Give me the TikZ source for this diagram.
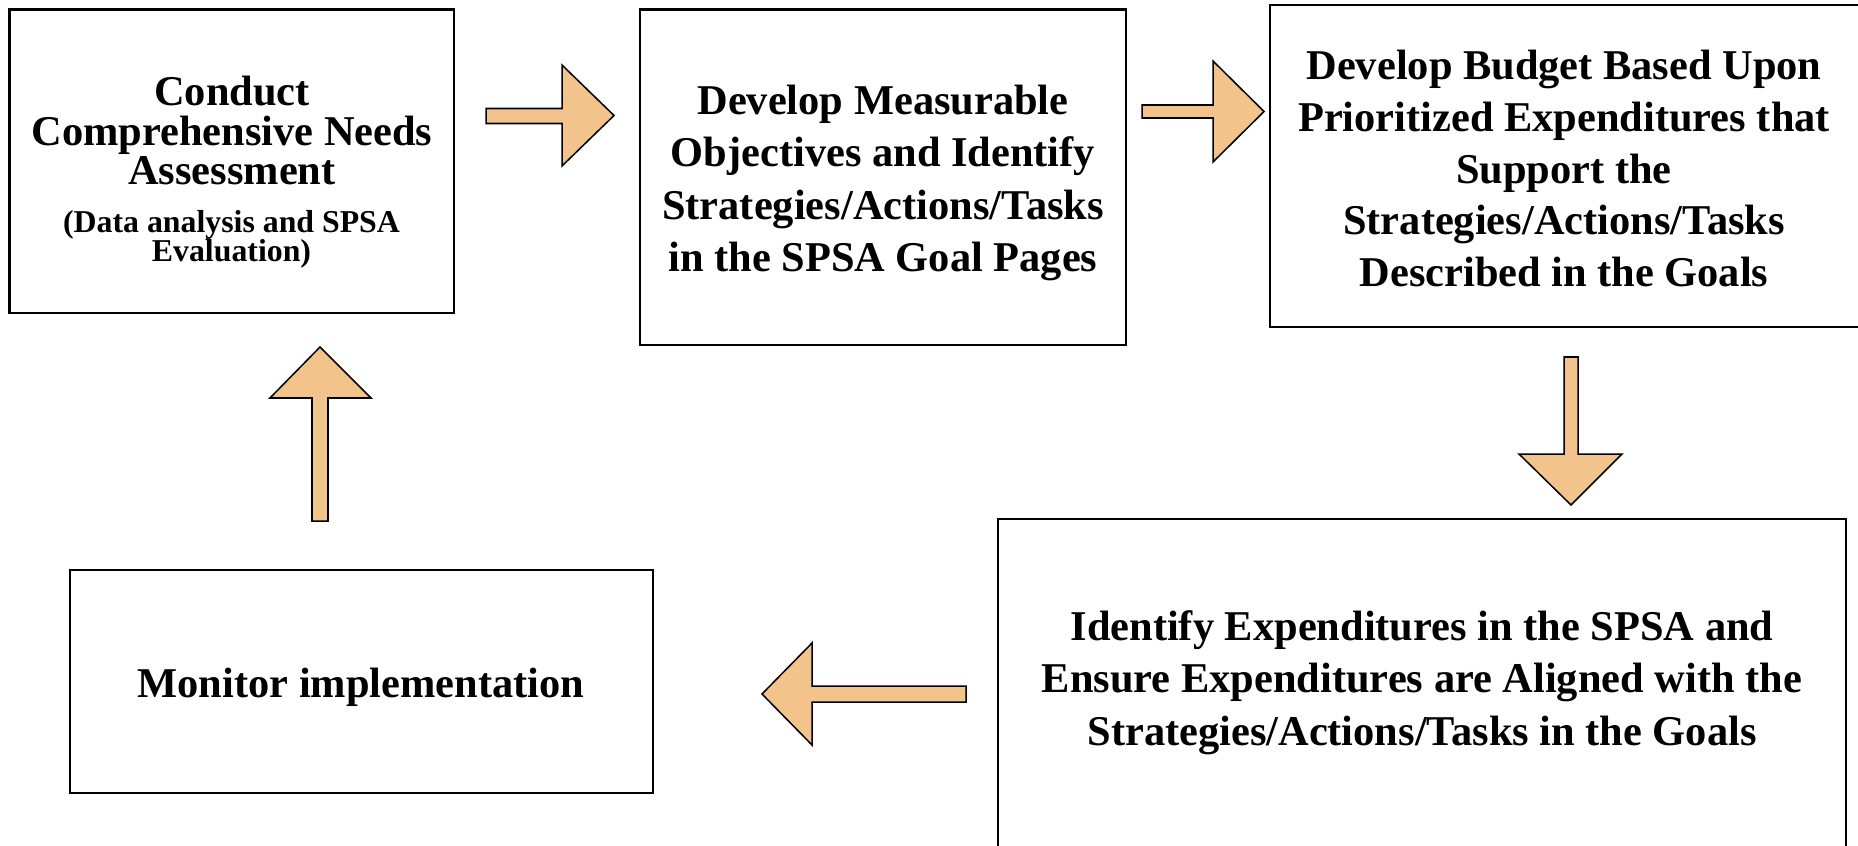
\documentclass[tikz,border=0pt]{standalone}
\usepackage{fontspec}
\setmainfont{Liberation Serif}
\definecolor{arrowfill}{RGB}{242,195,138}
\begin{document}
\begin{tikzpicture}[x=0.33pt,y=-0.33pt,
  box/.style={draw, line width=0.8pt, rectangle, inner sep=0pt, outer sep=0pt, anchor=north west},
  maintext/.style={align=center, inner sep=0pt, font={\fontsize{14}{17.3}\selectfont\bfseries\lineskiplimit=-20pt}},
  blockarrow/.style={draw, line width=0.5pt, fill=arrowfill, line join=miter}]
\useasboundingbox (0,0) rectangle (1858,845);
\clip (0,0) rectangle (1858,845);
% boxes
\node[box, minimum width={444.5*0.33pt}, minimum height={303.5*0.33pt}] (b1) at (9.5,9.5) {};
\node[box, minimum width={486*0.33pt}, minimum height={335.5*0.33pt}] (b2) at (640,9.5) {};
\node[box, minimum width={592*0.33pt}, minimum height={322*0.33pt}] (b3) at (1270,5) {};
\node[box, minimum width={848*0.33pt}, minimum height={381*0.33pt}] (b4) at (998,519) {};
\node[box, minimum width={583*0.33pt}, minimum height={223*0.33pt}] (b5) at (70,570) {};
% texts
\node[maintext, font={\fontsize{14}{13.1}\selectfont\bfseries\lineskiplimit=-20pt}] (t1) at (232,130.5) {Conduct\\Comprehensive Needs\\Assessment};
\node[maintext, font={\fontsize{10.5}{9.4}\selectfont\bfseries\lineskiplimit=-20pt}] (t1s) at (231.5,239.5) {(Data analysis and SPSA\\Evaluation)};
\node[maintext] (t2) at (883,183) {Develop Measurable\\Objectives and Identify\\Strategies/Actions/Tasks\\in the SPSA Goal Pages};
\node[maintext, font={\fontsize{14}{17.1}\selectfont\bfseries\lineskiplimit=-20pt}] (t3) at (1564,168.5) {Develop Budget Based Upon\\Prioritized Expenditures that\\Support the\\Strategies/Actions/Tasks\\Described in the Goals};
\node[maintext] (t4) at (1422,682.5) {Identify Expenditures in the SPSA and\\Ensure Expenditures are Aligned with the\\Strategies/Actions/Tasks in the Goals};
\node[maintext] (t5) at (361,687) {Monitor implementation};
% block arrows
\draw[blockarrow] (486,108.5) -- (562,108.5) -- (562,65) -- (614,115.5) -- (562,166) -- (562,123.5) -- (486,123.5) -- cycle;
\draw[blockarrow] (1142,105) -- (1213,105) -- (1213,61) -- (1264,111.5) -- (1213,162) -- (1213,118) -- (1142,118) -- cycle;
\draw[blockarrow] (1564,357) -- (1564,454) -- (1519,454) -- (1571,505) -- (1622,454) -- (1578,454) -- (1578,357) -- cycle;
\draw[blockarrow] (966,686) -- (812,686) -- (812,643) -- (762,694) -- (812,745) -- (812,702) -- (966,702) -- cycle;
\draw[blockarrow] (312,521) -- (312,398) -- (270,398) -- (320,347) -- (371,398) -- (328,398) -- (328,521) -- cycle;
\end{tikzpicture}
\end{document}
